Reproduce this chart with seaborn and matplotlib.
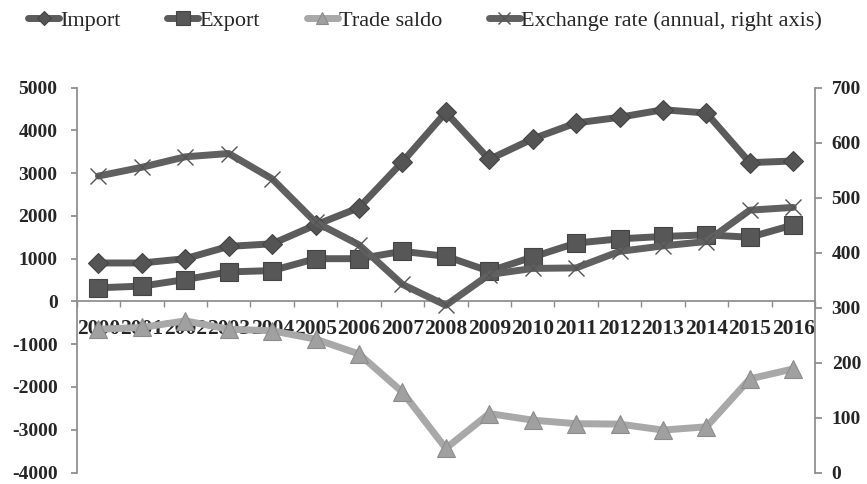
import numpy as np
import pandas as pd
import matplotlib
matplotlib.use("Agg")
import matplotlib.pyplot as plt
import seaborn as sns

years = [str(y) for y in range(2000, 2017)]
imports = [898, 898, 998, 1286, 1346, 1787, 2191, 3259, 4420, 3319, 3800, 4171, 4304, 4480, 4403, 3243, 3282]
exports = [318, 357, 511, 689, 720, 998, 998, 1170, 1054, 706, 1038, 1363, 1462, 1518, 1555, 1500, 1787]
trade_saldo = [-650, -610, -455, -650, -687, -882, -1230, -2119, -3435, -2623, -2776, -2859, -2869, -3008, -2932, -1811, -1578]
exchange_rate = [539, 555, 574, 580, 534, 455, 414, 342, 304, 360, 371, 372, 402, 412, 420, 477, 482]

sns.set_theme(style="ticks")
plt.rcParams["font.family"] = ["Liberation Serif", "DejaVu Serif"]
plt.rcParams["axes.unicode_minus"] = False

df = pd.DataFrame({
    "pos": np.arange(len(years)),
    "Import": imports,
    "Export": exports,
    "Trade saldo": trade_saldo,
    "Exchange": exchange_rate,
})

W, H = 867, 484
fig = plt.figure(figsize=(W / 100, H / 100), dpi=100)
L, R, T, B = 76.7, 815, 87.5, 472.5
ax = fig.add_axes([L / W, 1 - B / H, (R - L) / W, (B - T) / H])
ax2 = ax.twinx()

lw = 5
sns.lineplot(data=df, x="pos", y="Import", ax=ax, color="#5b5b5b", lw=lw,
             marker="D", ms=10, mfc="#545454", mec="#444444", mew=0.8, label="Import")
sns.lineplot(data=df, x="pos", y="Export", ax=ax, color="#5b5b5b", lw=lw,
             marker="s", ms=13.5, mfc="#575757", mec="#444444", mew=0.8, label="Export")
sns.lineplot(data=df, x="pos", y="Trade saldo", ax=ax, color="#a8a8a8", lw=lw,
             marker="^", ms=12.5, mfc="#a0a0a0", mec="#8c8c8c", mew=0.8, label="Trade saldo")
sns.lineplot(data=df, x="pos", y="Exchange", ax=ax2, color="#606060", lw=lw,
             marker="x", ms=12, mec="#555555", mew=1.0,
             label="Exchange rate (annual, right axis)")

h1, l1 = ax.get_legend_handles_labels()
h2, l2 = ax2.get_legend_handles_labels()
ax.get_legend().remove()
ax2.get_legend().remove()

ax.set_xlim(-0.5, len(years) - 0.5)
ax.set_ylim(-4000, 5000)
ax.set_yticks(np.arange(-4000, 5001, 1000))
ax2.set_ylim(0, 700)
ax2.set_yticks(np.arange(0, 701, 100))
ax.set_xlabel("")
ax.set_ylabel("")
ax2.set_ylabel("")

spine_c = "#8c8c8c"
for s in ["top", "right"]:
    ax.spines[s].set_visible(False)
for s in ["top", "left", "bottom"]:
    ax2.spines[s].set_visible(False)
ax.spines["bottom"].set_position(("data", 0))
ax.spines["bottom"].set_color(spine_c)
ax.spines["left"].set_color(spine_c)
ax2.spines["right"].set_color(spine_c)

ax.set_xticks(np.arange(-0.5, len(years), 1.0))
ax.set_xticklabels([])
ax.set_xticks(np.arange(len(years)), minor=True)
ax.set_xticklabels(years, minor=True, fontsize=15.5, fontweight="bold")
ax.tick_params(axis="x", which="major", direction="out", length=4, color=spine_c, width=1)
ax.tick_params(axis="x", which="minor", length=0, pad=13)
ax.tick_params(axis="y", left=True, direction="out", length=4.3, color=spine_c, pad=9.5)
ax2.tick_params(axis="y", right=True, direction="out", length=5, color=spine_c, pad=7)
for t in ax.get_yticklabels():
    t.set_fontsize(14)
    t.set_fontweight("bold")
for t in ax2.get_yticklabels():
    t.set_fontsize(14)
    t.set_fontweight("bold")

fig.legend(h1 + h2, l1 + l2, ncol=4, loc="center",
           bbox_to_anchor=(425 / W, 1 - 21 / H), frameon=False,
           fontsize=16, handlelength=1.4, handletextpad=0.05,
           columnspacing=2.1, markerscale=0.7)

fig.savefig("out.png", dpi=100)
